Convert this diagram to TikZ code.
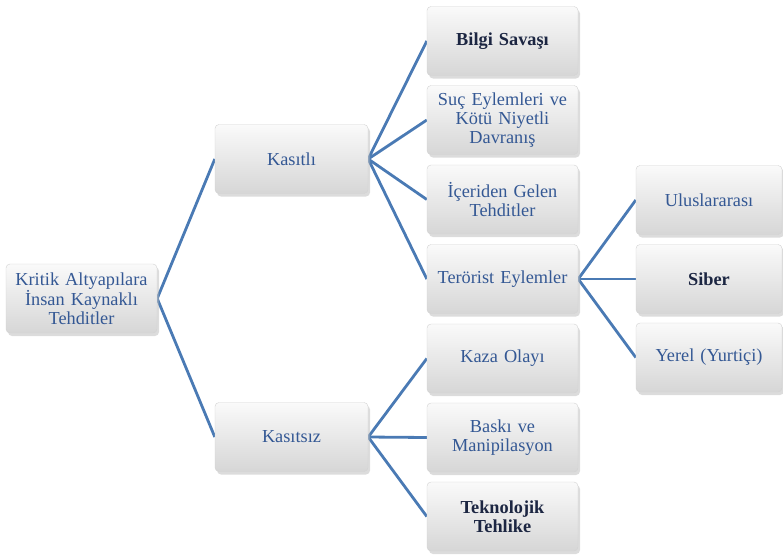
\documentclass[tikz,border=0pt]{standalone}
\usepackage{fontspec}
\setmainfont{Liberation Serif}
\usetikzlibrary{shadows,backgrounds}
\definecolor{txtblue}{RGB}{52,88,148}
\definecolor{txtdark}{RGB}{28,38,66}
\definecolor{linkblue}{RGB}{74,122,180}
\tikzset{
  box/.style={rounded corners=4pt, draw=gray!35, line width=0.4pt,
    top color=gray!4, bottom color=gray!32,
    drop shadow={shadow xshift=2pt, shadow yshift=-3pt, fill=gray!60, opacity=0.45},
    minimum width=151pt, minimum height=69pt, inner sep=2pt,
    align=center, text width=146pt, text=txtblue,
    font=\fontsize{18.3}{18.6}\selectfont},
  boldbox/.style={box, text=txtdark, font=\fontsize{18.3}{18.6}\selectfont\bfseries},
  link/.style={draw=linkblue, line width=2.8pt}
}
\begin{document}
\begin{tikzpicture}[x=1pt,y=-1pt]
\useasboundingbox (0,0) rectangle (783,557);
\node[box] (root) at (81.5,298.5) {Kritik Altyapılara\\İnsan Kaynaklı\\Tehditler};
\node[box, minimum width=153pt] (kasitli) at (291.5,159) {Kasıtlı};
\node[box, minimum width=153pt] (kasitsiz) at (291.5,437) {Kasıtsız};
\node[boldbox] (bilgi) at (502.5,41) {Bilgi Savaşı};
\node[box] (suc) at (502.5,120) {Suç Eylemleri ve\\Kötü Niyetli\\Davranış};
\node[box] (icer) at (502.5,199.5) {İçeriden Gelen\\Tehditler};
\node[box] (teror) at (502.5,279) {Terörist Eylemler};
\node[box] (kaza) at (502.5,358.5) {Kaza Olayı};
\node[box] (baski) at (502.5,437.5) {Baskı ve\\Manipilasyon};
\node[boldbox] (tekno) at (502.5,516.5) {Teknolojik\\Tehlike};
\node[box, minimum width=146pt, text width=140pt] (ulus) at (709,200) {Uluslararası};
\node[boldbox, minimum width=146pt, text width=140pt] (siber) at (709,279) {Siber};
\node[box, minimum width=146pt, text width=140pt] (yerel) at (709,357.5) {Yerel (Yurtiçi)};
\begin{scope}[on background layer]
\draw[link] (root.east) -- (kasitli.west);
\draw[link] (root.east) -- (kasitsiz.west);
\draw[link] (kasitli.east) -- (bilgi.west);
\draw[link] (kasitli.east) -- (suc.west);
\draw[link] (kasitli.east) -- (icer.west);
\draw[link] (kasitli.east) -- (teror.west);
\draw[link] (kasitsiz.east) -- (kaza.west);
\draw[link] (kasitsiz.east) -- (baski.west);
\draw[link] (kasitsiz.east) -- (tekno.west);
\draw[link] (teror.east) -- (ulus.west);
\draw[link] (teror.east) -- (siber.west);
\draw[link] (teror.east) -- (yerel.west);
\end{scope}
\end{tikzpicture}
\end{document}
